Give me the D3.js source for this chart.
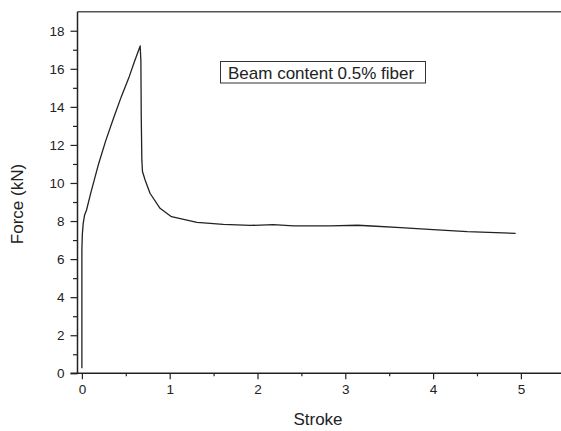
<!DOCTYPE html>
<html>
<head>
<meta charset="utf-8">
<script src="https://cdn.jsdelivr.net/npm/d3@7"></script>
<style>
  body { margin: 0; background: #fff; }
  text { font-family: "Liberation Sans", Arial, sans-serif; fill: #222; }
</style>
</head>
<body>
<div id="chart"></div>
<script>
// force-stroke curve
var stroke = [0, 0, 0.005, 0.015, 0.03, 0.053, 0.1, 0.19, 0.27, 0.36, 0.45, 0.54, 0.6, 0.664, 0.672, 0.676, 0.683, 0.69, 0.72, 0.776, 0.89, 1.02, 1.31, 1.61, 1.92, 2.18, 2.41, 2.83, 3.14, 3.3, 3.63, 4.0, 4.39, 4.94];
var force = [0.26, 6.5, 7.3, 7.88, 8.3, 8.58, 9.45, 11.0, 12.2, 13.4, 14.55, 15.6, 16.4, 17.2, 16.4, 13.5, 11.2, 10.6, 10.16, 9.46, 8.67, 8.23, 7.93, 7.82, 7.77, 7.81, 7.75, 7.75, 7.78, 7.74, 7.65, 7.55, 7.44, 7.35];

var xTicks = [0, 1, 2, 3, 4, 5];
var xMinor = [0.5, 1.5, 2.5, 3.5, 4.5];
var yTicks = [0, 2, 4, 6, 8, 10, 12, 14, 16, 18];
var yMinor = [1, 3, 5, 7, 9, 11, 13, 15, 17];
var legendLabel = "Beam content 0.5% fiber";

var width = 561, height = 431;
var margin = { top: 11.7, right: 0, bottom: 57.7, left: 77.5 };

var svg = d3.select("#chart")
    .append("svg")
    .attr("width", width)
    .attr("height", height);

var x = d3.scaleLinear().domain([-0.05, 5.5]).range([margin.left, margin.left + 5.55 * 87.8]);
var y = d3.scaleLinear().domain([0, 19]).range([height - margin.bottom, margin.top]);

// top frame line
svg.append("line")
    .attr("x1", margin.left).attr("x2", width)
    .attr("y1", y(19)).attr("y2", y(19))
    .style("stroke", "#555")
    .style("stroke-width", 1.5);

// x axis, major + minor ticks
svg.append("g")
    .attr("transform", "translate(0," + y(0) + ")")
    .call(d3.axisBottom(x).tickValues(xTicks).tickSize(6).tickPadding(5).tickFormat(d3.format("d")))
    .select(".domain").remove();
svg.append("g")
    .attr("transform", "translate(0," + y(0) + ")")
    .call(d3.axisBottom(x).tickValues(xMinor).tickSize(3).tickFormat(""))
    .select(".domain").remove();

// y axis, major + minor ticks
svg.append("g")
    .attr("transform", "translate(" + margin.left + ",0)")
    .call(d3.axisLeft(y).tickValues(yTicks).tickSize(7).tickPadding(6).tickFormat(d3.format("d")))
    .select(".domain").remove();
svg.append("g")
    .attr("transform", "translate(" + margin.left + ",0)")
    .call(d3.axisLeft(y).tickValues(yMinor).tickSize(4.5).tickFormat(""))
    .select(".domain").remove();

svg.append("line")
    .attr("x1", margin.left - 7).attr("x2", width)
    .attr("y1", y(0)).attr("y2", y(0))
    .style("stroke", "#222").style("stroke-width", 1.5);
svg.append("line")
    .attr("x1", margin.left).attr("x2", margin.left)
    .attr("y1", y(0)).attr("y2", y(19))
    .style("stroke", "#222").style("stroke-width", 1.5);

svg.selectAll(".tick line").style("stroke", "#222").style("stroke-width", 1.2);
svg.selectAll(".tick text")
    .style("font-size", "13.5px")
    .style("font-family", "'Liberation Sans', Arial, sans-serif")
    .style("fill", "#222");

// axis titles
svg.append("text")
    .attr("x", 318)
    .attr("y", 425)
    .attr("text-anchor", "middle")
    .style("font-size", "17px")
    .text("Stroke");

svg.append("text")
    .attr("transform", "translate(23,204) rotate(-90)")
    .attr("text-anchor", "middle")
    .style("font-size", "17px")
    .text("Force (kN)");

// curve
var points = stroke.map(function(d, i) { return [d, force[i]]; });

svg.append("path")
    .datum(points)
    .attr("d", d3.line().x(function(d) { return x(d[0]); }).y(function(d) { return y(d[1]); }))
    .style("fill", "none")
    .style("stroke", "#222")
    .style("stroke-width", 1.3)
    .style("stroke-linejoin", "round");

// legend box
svg.append("rect")
    .attr("x", 220.5).attr("y", 61.5)
    .attr("width", 205).attr("height", 21.5)
    .style("fill", "#fff")
    .style("stroke", "#333")
    .style("stroke-width", 1);

svg.append("text")
    .attr("x", 228)
    .attr("y", 79)
    .style("font-size", "17px")
    .text(legendLabel);
</script>
</body>
</html>
